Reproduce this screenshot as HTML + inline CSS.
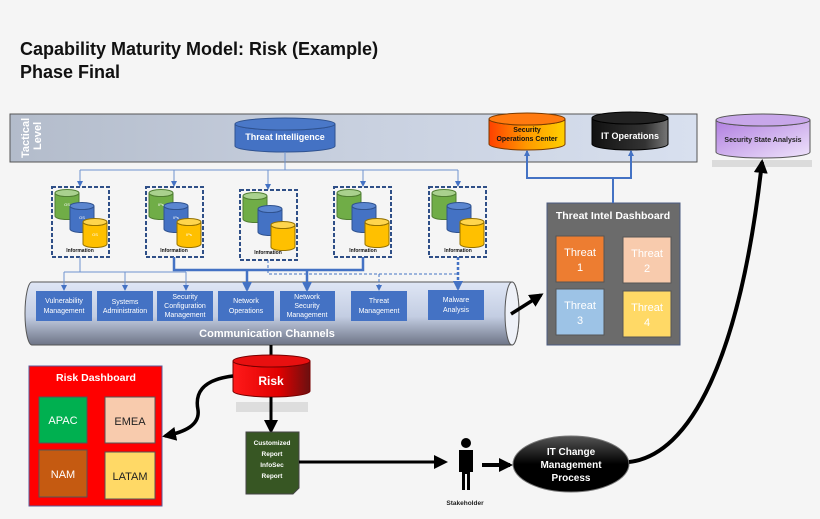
<!DOCTYPE html>
<html><head><meta charset="utf-8"><style>
body{margin:0;background:#f5f5f5}
svg{display:block;font-family:"Liberation Sans",sans-serif}
</style></head><body>
<svg width="820" height="519" viewBox="0 0 820 519" xmlns="http://www.w3.org/2000/svg">
<defs>
<linearGradient id="band" x1="0" x2="1"><stop offset="0" stop-color="#b3bccb"/><stop offset="0.5" stop-color="#c8d0df"/><stop offset="1" stop-color="#d8e0ef"/></linearGradient>
<linearGradient id="soc" x1="0" x2="1"><stop offset="0" stop-color="#ff4000"/><stop offset="0.5" stop-color="#ff9a00"/><stop offset="1" stop-color="#ffd000"/></linearGradient>
<linearGradient id="itops" x1="0" x2="1"><stop offset="0" stop-color="#111"/><stop offset="0.7" stop-color="#333"/><stop offset="1" stop-color="#777"/></linearGradient>
<linearGradient id="ssa" x1="0" x2="1" y1="0" y2="1"><stop offset="0" stop-color="#b07ee0"/><stop offset="1" stop-color="#efe4fb"/></linearGradient>
<linearGradient id="pipe" x1="0" y1="0" x2="0" y2="1"><stop offset="0" stop-color="#dfe6f5"/><stop offset="0.55" stop-color="#c3cde2"/><stop offset="1" stop-color="#6d7486"/></linearGradient>
<linearGradient id="risk" x1="0" x2="1"><stop offset="0" stop-color="#ff1a1a"/><stop offset="0.6" stop-color="#e00000"/><stop offset="1" stop-color="#6a1010"/></linearGradient>
<linearGradient id="ell" x1="0" y1="0" x2="0" y2="1"><stop offset="0" stop-color="#555"/><stop offset="0.5" stop-color="#000"/></linearGradient>
<marker id="ab" markerUnits="userSpaceOnUse" markerWidth="6" markerHeight="6" refX="5" refY="3" orient="auto"><path d="M0,0 L6,3 L0,6 Z" fill="#4472c4"/></marker>
<marker id="abl" markerUnits="userSpaceOnUse" markerWidth="10" markerHeight="10" refX="8" refY="5" orient="auto"><path d="M0,0 L10,5 L0,10 Z" fill="#4472c4"/></marker>
<marker id="ak" markerUnits="userSpaceOnUse" markerWidth="14" markerHeight="14" refX="11" refY="7" orient="auto"><path d="M0,0 L14,7 L0,14 Z" fill="#000"/></marker>
<g id="ib">
<rect x="52" y="187" width="57" height="70" fill="none" stroke="#2f4f87" stroke-width="2" stroke-dasharray="4,2"/>
<path d="M55 193 A12 3.5 0 0 0 79 193 V216 A12 3.5 0 0 1 55 216 Z" fill="#70ad47" stroke="#507e32"/>
<ellipse cx="67" cy="193" rx="12" ry="3.5" fill="#a9d18e" stroke="#507e32"/>
<path d="M70 206 A12 3.5 0 0 0 94 206 V229 A12 3.5 0 0 1 70 229 Z" fill="#4472c4" stroke="#2f528f"/>
<ellipse cx="82" cy="206" rx="12" ry="3.5" fill="#5b86d0" stroke="#2f528f"/>
<path d="M83 222 A12 3.5 0 0 0 107 222 V244 A12 3.5 0 0 1 83 244 Z" fill="#ffc000" stroke="#947100"/>
<ellipse cx="95" cy="222" rx="12" ry="3.5" fill="#ffd54d" stroke="#947100"/>
</g>
</defs>

<text x="20" y="55" font-size="18" font-weight="bold" fill="#111">Capability Maturity Model: Risk (Example)</text>
<text x="20" y="78" font-size="18" font-weight="bold" fill="#111">Phase Final</text>

<!-- tactical band -->
<rect x="10" y="114" width="687" height="48" fill="url(#band)" stroke="#555" stroke-width="1"/>
<text transform="translate(29,158) rotate(-90)" font-size="11" font-weight="bold" fill="#fff">Tactical</text>
<text transform="translate(41,150) rotate(-90)" font-size="11" font-weight="bold" fill="#fff">Level</text>

<!-- threat intelligence -->
<path d="M235 124 A50 6 0 0 0 335 124 V146 A50 6 0 0 1 235 146 Z" fill="#4472c4" stroke="#2f528f"/>
<ellipse cx="285" cy="124" rx="50" ry="6" fill="#4a78c8" stroke="#2f528f"/>
<text x="285" y="140" font-size="9" font-weight="bold" fill="#fff" text-anchor="middle">Threat Intelligence</text>

<!-- SOC -->
<path d="M489 119 A38 6 0 0 0 565 119 V144 A38 6 0 0 1 489 144 Z" fill="url(#soc)" stroke="#7a3b00"/>
<ellipse cx="527" cy="119" rx="38" ry="6" fill="#ff7a10" stroke="#7a3b00"/>
<text x="527" y="132" font-size="7" font-weight="bold" fill="#111" text-anchor="middle">Security</text>
<text x="527" y="141" font-size="7" font-weight="bold" fill="#111" text-anchor="middle">Operations Center</text>
<!-- IT ops -->
<path d="M592 118 A38 6 0 0 0 668 118 V144 A38 6 0 0 1 592 144 Z" fill="url(#itops)" stroke="#000"/>
<ellipse cx="630" cy="118" rx="38" ry="6" fill="#222" stroke="#000"/>
<text x="630" y="139" font-size="9" font-weight="bold" fill="#fff" text-anchor="middle">IT Operations</text>
<!-- SSA -->
<rect x="712" y="160" width="100" height="7" fill="#d4d4d4" opacity="0.8"/>
<path d="M716 120 A47 6 0 0 0 810 120 V152 A47 6 0 0 1 716 152 Z" fill="url(#ssa)" stroke="#555"/>
<ellipse cx="763" cy="120" rx="47" ry="6" fill="#c8a7ea" stroke="#555"/>
<text x="763" y="142" font-size="7" font-weight="bold" fill="#222" text-anchor="middle">Security State Analysis</text>

<!-- top thin connectors -->
<g stroke="#6f94d0" stroke-width="1" fill="none">
<path d="M285 152 V170 M80 170 H458"/>
<path d="M80 170 V186" marker-end="url(#ab)"/><path d="M174 170 V186" marker-end="url(#ab)"/><path d="M268 170 V189" marker-end="url(#ab)"/><path d="M363 170 V186" marker-end="url(#ab)"/><path d="M458 170 V186" marker-end="url(#ab)"/>
</g>

<!-- info boxes -->
<use href="#ib"/>
<use href="#ib" transform="translate(94,0)"/>
<use href="#ib" transform="translate(188,3)"/>
<use href="#ib" transform="translate(282,0)"/>
<use href="#ib" transform="translate(377,0)"/>
<g font-size="5" font-weight="bold" fill="#111" text-anchor="middle">
<text x="80" y="252">Information</text><text x="174" y="252">Information</text><text x="268" y="254">Information</text><text x="363" y="252">Information</text><text x="458" y="252">Information</text>
</g>
<g font-size="4" fill="#fff" text-anchor="middle">
<text x="67" y="206">OS</text><text x="82" y="219">OS</text><text x="95" y="236">OS</text>
<text x="161" y="206">IPs</text><text x="176" y="219">IPs</text><text x="189" y="236">IPs</text>
</g>

<!-- comm channel pipe -->
<path d="M32 282 H512 A7 31.5 0 0 1 512 345 H32 A7 31.5 0 0 1 32 282 Z" fill="url(#pipe)" stroke="#555"/>
<ellipse cx="512" cy="313.5" rx="7" ry="31.5" fill="#eef1f8" stroke="#555"/>
<g fill="#4472c4">
<rect x="36" y="291" width="56" height="30"/><rect x="97" y="291" width="56" height="30"/><rect x="157" y="291" width="56" height="30"/><rect x="218" y="291" width="56" height="30"/><rect x="280" y="291" width="55" height="30"/><rect x="351" y="291" width="56" height="30"/><rect x="428" y="290" width="56" height="30"/>
</g>
<g font-size="7" fill="#fff" text-anchor="middle">
<text x="64" y="303">Vulnerability</text><text x="64" y="313">Management</text>
<text x="125" y="304">Systems</text><text x="125" y="313">Administration</text>
<text x="185" y="299">Security</text><text x="185" y="308">Configuration</text><text x="185" y="317">Management</text>
<text x="246" y="303">Network</text><text x="246" y="313">Operations</text>
<text x="307" y="299">Network</text><text x="307" y="308">Security</text><text x="307" y="317">Management</text>
<text x="379" y="303">Threat</text><text x="379" y="313">Management</text>
<text x="456" y="302">Malware</text><text x="456" y="312">Analysis</text>
</g>
<text x="267" y="337" font-size="11" font-weight="bold" fill="#fff" text-anchor="middle">Communication Channels</text>

<!-- info to channels -->
<g stroke="#6f94d0" stroke-width="1" fill="none">
<path d="M80 257 V272 M64 272 H186"/>
<path d="M64 272 V290" marker-end="url(#ab)"/><path d="M125 272 V290" marker-end="url(#ab)"/><path d="M186 272 V290" marker-end="url(#ab)"/>
</g>
<g stroke="#4472c4" stroke-width="2.5" fill="none">
<path d="M174 257 V270 H363 V257"/>
<path d="M247 270 V290" marker-end="url(#abl)"/><path d="M307 270 V290" marker-end="url(#abl)"/>
</g>
<g stroke="#4472c4" stroke-width="1" fill="none" stroke-dasharray="3,2">
<path d="M268 260 V274 H458"/><path d="M379 274 V290" marker-end="url(#ab)"/>
</g>
<path d="M458 257 V289" stroke="#4472c4" stroke-width="2.5" stroke-dasharray="3,2" marker-end="url(#abl)" fill="none"/>

<!-- threat intel dashboard -->
<rect x="547" y="203" width="133" height="142" fill="#6b6b6b" stroke="#4a5a80"/>
<text x="613" y="219" font-size="10.5" font-weight="bold" fill="#fff" text-anchor="middle">Threat Intel Dashboard</text>
<rect x="556" y="236" width="48" height="46" fill="#ed7d31" stroke="#555"/>
<rect x="623" y="237" width="48" height="46" fill="#f8cbad" stroke="#555"/>
<rect x="556" y="289" width="48" height="46" fill="#9dc3e6" stroke="#555"/>
<rect x="623" y="291" width="48" height="46" fill="#ffd966" stroke="#555"/>
<g font-size="11" fill="#fff" text-anchor="middle">
<text x="580" y="256">Threat</text><text x="580" y="271">1</text>
<text x="647" y="257">Threat</text><text x="647" y="272">2</text>
<text x="580" y="309">Threat</text><text x="580" y="324">3</text>
<text x="647" y="311">Threat</text><text x="647" y="326">4</text>
</g>
<g stroke="#4472c4" stroke-width="2" fill="none">
<path d="M613 203 V178 H527 V151" marker-end="url(#ab)"/>
<path d="M613 178 H631 V151" marker-end="url(#ab)"/>
</g>
<path d="M511 314 L541 295" stroke="#000" stroke-width="3.5" marker-end="url(#ak)"/>

<!-- risk -->
<path d="M271 345 V358" stroke="#000" stroke-width="3"/>
<rect x="236" y="402" width="72" height="10" fill="#ddd"/>
<path d="M233 361 A38.5 6 0 0 0 310 361 V391 A38.5 6 0 0 1 233 391 Z" fill="url(#risk)" stroke="#700"/>
<ellipse cx="271.5" cy="361" rx="38.5" ry="6" fill="#e81010" stroke="#700"/>
<text x="271" y="385" font-size="12" font-weight="bold" fill="#fff" text-anchor="middle">Risk</text>
<path d="M271 397 V431" stroke="#000" stroke-width="3" marker-end="url(#ak)"/>
<path d="M233 376 C200 380 195 395 198 410 C200 425 185 432 165 436" stroke="#000" stroke-width="3.5" fill="none" marker-end="url(#ak)"/>

<!-- risk dashboard -->
<rect x="29" y="366" width="133" height="140" fill="#ff0000" stroke="#5a5a9a"/>
<text x="96" y="381" font-size="10.5" font-weight="bold" fill="#fff" text-anchor="middle">Risk Dashboard</text>
<rect x="39" y="397" width="48" height="46" fill="#00b050" stroke="#555"/>
<rect x="105" y="397" width="50" height="46" fill="#f8cbad" stroke="#555"/>
<rect x="39" y="450" width="48" height="47" fill="#c55a11" stroke="#555"/>
<rect x="105" y="452" width="50" height="47" fill="#ffd966" stroke="#555"/>
<g font-size="11" text-anchor="middle">
<text x="63" y="424" fill="#fff">APAC</text><text x="130" y="425" fill="#222">EMEA</text>
<text x="63" y="478" fill="#fff">NAM</text><text x="130" y="480" fill="#222">LATAM</text>
</g>

<!-- report -->
<path d="M246 432 H299 V488 L293 494 H246 Z" fill="#375623" stroke="#444"/>
<g font-size="6.5" font-weight="bold" fill="#fff" text-anchor="middle">
<text x="272" y="445">Customized</text><text x="272" y="456">Report</text><text x="272" y="467">InfoSec</text><text x="272" y="478">Report</text>
</g>
<path d="M299 462 H445" stroke="#000" stroke-width="3" marker-end="url(#ak)"/>

<!-- stakeholder -->
<circle cx="466" cy="443" r="5" fill="#000"/>
<path d="M459 450 H473 V472 H470 V490 H467 V474 H465 V490 H462 V472 H459 Z" fill="#000"/>
<text x="465" y="505" font-size="6.5" font-weight="bold" fill="#222" text-anchor="middle">Stakeholder</text>
<path d="M482 465 H510" stroke="#000" stroke-width="4" marker-end="url(#ak)"/>

<!-- IT change -->
<ellipse cx="571" cy="464" rx="58" ry="28" fill="url(#ell)" stroke="#777"/>
<g font-size="10" font-weight="bold" fill="#fff" text-anchor="middle">
<text x="571" y="455">IT Change</text><text x="571" y="468">Management</text><text x="571" y="481">Process</text>
</g>
<path d="M629 462 C690 455 740 360 762 162" stroke="#000" stroke-width="4" fill="none" marker-end="url(#ak)"/>
</svg>
</body></html>
